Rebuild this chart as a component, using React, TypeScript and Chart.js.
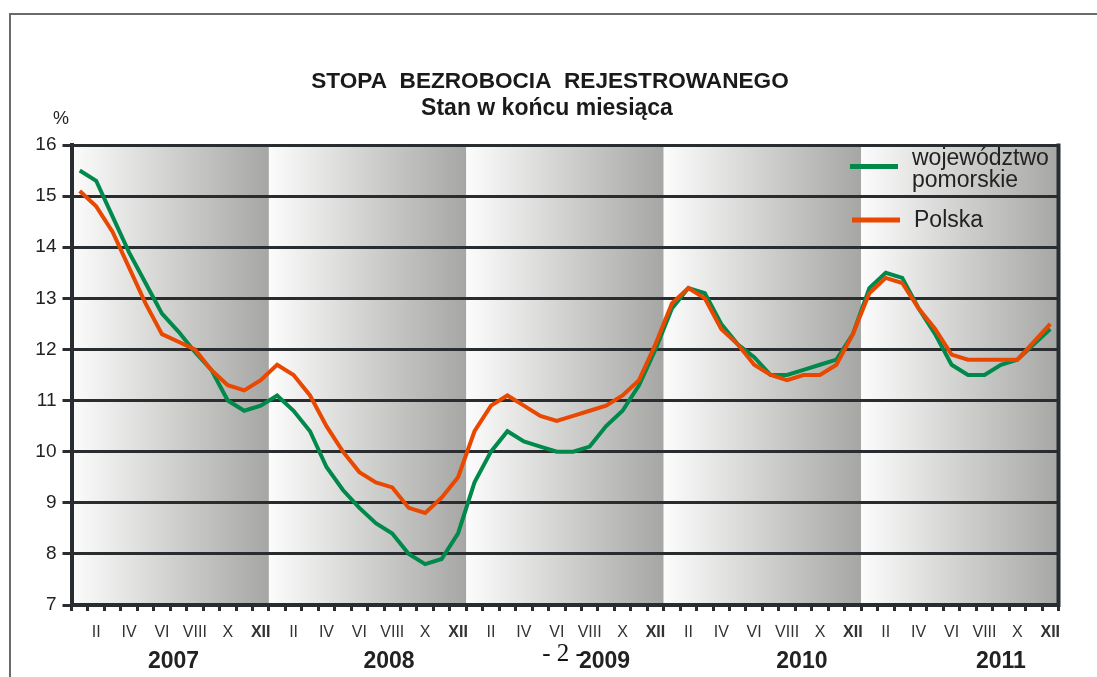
import React, { useEffect, useRef } from "react";
import { Chart, registerables } from "chart.js";

Chart.register(...registerables);

const years = ["2007", "2008", "2009", "2010", "2011"];
const monthLabels = ["I", "II", "III", "IV", "V", "VI", "VII", "VIII", "IX", "X", "XI", "XII"];
const categories = years.flatMap((y) => monthLabels.map((m) => `${m} ${y}`));

const pomorskie = [
  15.5, 15.3, 14.6, 13.9, 13.3, 12.7, 12.35, 11.95, 11.6, 11.0, 10.8, 10.9,
  11.1, 10.8, 10.4, 9.7, 9.25, 8.9, 8.6, 8.4, 8.0, 7.8, 7.9, 8.4,
  9.4, 10.0, 10.4, 10.2, 10.1, 10.0, 10.0, 10.1, 10.5, 10.8, 11.3, 12.0,
  12.8, 13.2, 13.1, 12.5, 12.1, 11.85, 11.5, 11.5, 11.6, 11.7, 11.8, 12.3,
  13.2, 13.5, 13.4, 12.8, 12.3, 11.7, 11.5, 11.5, 11.7, 11.8, 12.1, 12.4,
];

const polska = [
  15.1, 14.8, 14.3, 13.6, 12.9, 12.3, 12.15, 12.0, 11.6, 11.3, 11.2, 11.4,
  11.7, 11.5, 11.1, 10.5, 10.0, 9.6, 9.4, 9.3, 8.9, 8.8, 9.1, 9.5,
  10.4, 10.9, 11.1, 10.9, 10.7, 10.6, 10.7, 10.8, 10.9, 11.1, 11.4, 12.1,
  12.9, 13.2, 13.0, 12.4, 12.1, 11.7, 11.5, 11.4, 11.5, 11.5, 11.7, 12.3,
  13.1, 13.4, 13.3, 12.8, 12.4, 11.9, 11.8, 11.8, 11.8, 11.8, 12.15, 12.5,
];

const yTicks = [7, 8, 9, 10, 11, 12, 13, 14, 15, 16];

const titleText = "STOPA  BEZROBOCIA  REJESTROWANEGO";
const subtitleText = "Stan w końcu miesiąca";
const seriesNames = ["województwo\npomorskie", "Polska"];
const unitLabel = "%";
const pageNumber = "- 2 -";

const GREEN = "#00894b";
const ORANGE = "#e84800";
const DARK = "#2a2d30";
const SANS = "'Liberation Sans', Arial, sans-serif";

const decorPlugin = {
  id: "decor",
  beforeDraw(chart: any) {
    const { ctx, chartArea } = chart;
    const x = chart.scales.x;
    const slot = x.width / categories.length;
    ctx.save();
    // page frame
    ctx.strokeStyle = "#6a6a6a";
    ctx.lineWidth = 2;
    ctx.beginPath();
    ctx.moveTo(10, 677);
    ctx.lineTo(10, 14);
    ctx.lineTo(1097, 14);
    ctx.stroke();
    // year bands
    years.forEach((_, k) => {
      const l = x.getPixelForValue(12 * k) - slot / 2;
      const r = x.getPixelForValue(12 * k + 11) + slot / 2;
      const g = ctx.createLinearGradient(l, 0, r, 0);
      g.addColorStop(0, "#fcfcfc");
      g.addColorStop(1, "#a6a6a4");
      ctx.fillStyle = g;
      ctx.fillRect(l, chartArea.top, r - l, chartArea.bottom - chartArea.top);
    });
    ctx.restore();
  },
  afterDraw(chart: any) {
    const { ctx, chartArea } = chart;
    const x = chart.scales.x;
    ctx.save();
    // right border
    ctx.strokeStyle = DARK;
    ctx.lineWidth = 4;
    ctx.beginPath();
    ctx.moveTo(chartArea.right, chartArea.top - 1.5);
    ctx.lineTo(chartArea.right, chartArea.bottom + 2);
    ctx.stroke();

    ctx.fillStyle = "#1a1a1a";
    ctx.textAlign = "center";
    ctx.textBaseline = "alphabetic";
    ctx.font = `bold 22.6px ${SANS}`;
    ctx.fillText(titleText, 550, 88);
    ctx.font = `bold 23px ${SANS}`;
    ctx.fillText(subtitleText, 547, 115);

    ctx.font = `18px ${SANS}`;
    ctx.fillStyle = "#222";
    ctx.fillText(unitLabel, 61, 124);

    // year labels
    const yearPos = [5.7, 18.8, 31.9, 43.9, 56.0];
    ctx.font = `bold 23px ${SANS}`;
    ctx.fillStyle = "#222";
    years.forEach((y, k) => {
      const i = yearPos[k];
      const p0 = x.getPixelForValue(Math.floor(i));
      const p1 = x.getPixelForValue(Math.floor(i) + 1);
      const px = p0 + (p1 - p0) * (i - Math.floor(i));
      ctx.fillText(y, px, 668);
    });

    // legend
    const names = seriesNames.map((s) => s.split("\n"));
    ctx.lineWidth = 5;
    ctx.lineCap = "butt";
    ctx.strokeStyle = GREEN;
    ctx.beginPath();
    ctx.moveTo(850, 166.5);
    ctx.lineTo(898, 166.5);
    ctx.stroke();
    ctx.strokeStyle = ORANGE;
    ctx.beginPath();
    ctx.moveTo(852, 220);
    ctx.lineTo(900, 220);
    ctx.stroke();
    ctx.font = `23px ${SANS}`;
    ctx.fillStyle = "#222";
    ctx.textAlign = "left";
    ctx.fillText(names[0][0], 912, 165);
    ctx.fillText(names[0][1], 912, 187);
    ctx.fillText(names[1][0], 914, 227);

    // page number
    ctx.textAlign = "center";
    ctx.font = `25px 'Liberation Serif', 'Times New Roman', serif`;
    ctx.fillStyle = "#111";
    ctx.fillText(pageNumber, 563, 661);
    ctx.restore();
  },
};

export default function App() {
  const ref = useRef<HTMLCanvasElement>(null);
  useEffect(() => {
    if (!ref.current) return;
    const chart = new Chart(ref.current, {
      type: "line",
      data: {
        labels: categories,
        datasets: [
          {
            label: seriesNames[0],
            data: pomorskie,
            borderColor: GREEN,
            backgroundColor: GREEN,
            borderWidth: 4,
            pointRadius: 0,
            tension: 0,
            order: 1,
          },
          {
            label: seriesNames[1],
            data: polska,
            borderColor: ORANGE,
            backgroundColor: ORANGE,
            borderWidth: 4,
            pointRadius: 0,
            tension: 0,
            order: 0,
          },
        ],
      },
      options: {
        responsive: false,
        animation: false,
        devicePixelRatio: 1,
        layout: { padding: { left: 0, right: 38.5, top: 145, bottom: 0 } },
        plugins: {
          legend: { display: false },
          title: { display: false },
          tooltip: { enabled: false },
        },
        scales: {
          x: {
            type: "category",
            offset: true,
            afterFit: (s: any) => {
              s.height = 72;
            },
            grid: {
              display: true,
              drawOnChartArea: false,
              drawTicks: true,
              tickLength: 6,
              lineWidth: 3,
              color: DARK,
              offset: true,
            },
            border: { display: true, width: 4, color: DARK },
            ticks: {
              autoSkip: false,
              maxRotation: 0,
              minRotation: 0,
              padding: 12,
              color: "#333",
              font: (c: any) => ({
                family: SANS,
                size: 16,
                weight: c.index % 12 === 11 ? "bold" : "normal",
              }),
              callback: (_v: any, i: number) =>
                i % 2 === 1 ? monthLabels[i % 12] : "",
            },
          },
          y: {
            min: yTicks[0],
            max: yTicks[yTicks.length - 1],
            afterFit: (s: any) => {
              s.width = 71.5;
            },
            afterBuildTicks: (s: any) => {
              s.ticks = yTicks.map((v) => ({ value: v }));
            },
            grid: {
              color: DARK,
              lineWidth: 3,
              drawTicks: true,
              tickLength: 9,
            },
            border: { display: true, width: 4, color: DARK },
            ticks: {
              padding: 6,
              color: "#222",
              font: { family: SANS, size: 19 },
            },
          },
        },
      },
      plugins: [decorPlugin],
    });
    return () => chart.destroy();
  }, []);
  return (
    <div style={{ position: "absolute", left: 0, top: 0, width: 1097, height: 677, background: "#fff" }}>
      <canvas ref={ref} width={1097} height={677} style={{ display: "block" }} />
    </div>
  );
}
